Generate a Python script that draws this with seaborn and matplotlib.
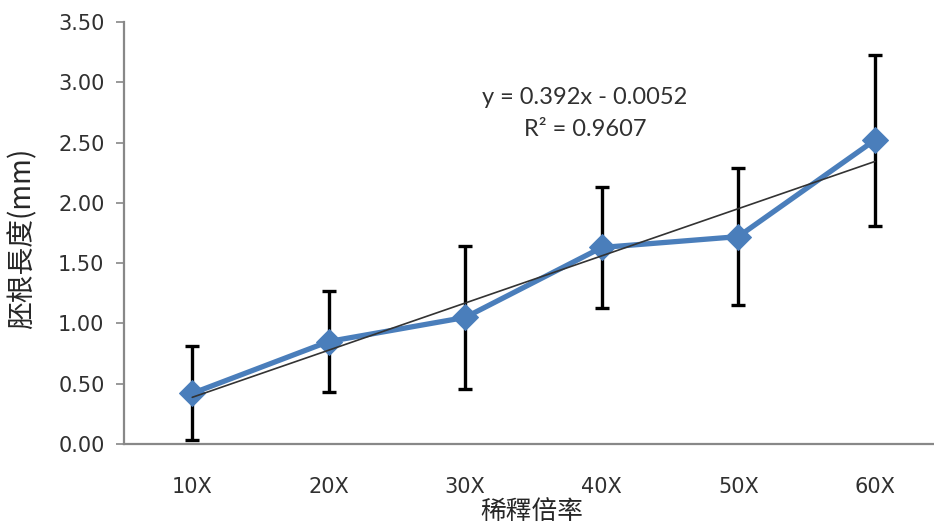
import numpy as np
import pandas as pd
import matplotlib
matplotlib.use("Agg")
import matplotlib.pyplot as plt
import seaborn as sns

categories = ["10X", "20X", "30X", "40X", "50X", "60X"]
means = [0.42, 0.85, 1.05, 1.63, 1.72, 2.52]
errors = [0.39, 0.42, 0.59, 0.50, 0.57, 0.71]
y_ticks = [0.0, 0.5, 1.0, 1.5, 2.0, 2.5, 3.0, 3.5]
y_label = "胚根長度(mm)"
x_label = "稀釋倍率"
eq_line1 = "y = 0.392x - 0.0052"
eq_line2 = "R² = 0.9607"

sns.set_style("white")
plt.rcParams['font.family'] = ['DejaVu Sans']

df = pd.DataFrame({"idx": np.arange(len(categories)), "cat": categories, "mean": means, "err": errors})

fig = plt.figure(figsize=(9.34, 5.30), dpi=100)
ax = fig.add_axes([124/934, 1 - 444/530, 1 - 124/934, (444 - 22)/530])

ax.errorbar(df["idx"], df["mean"], yerr=df["err"], fmt="none", ecolor="black",
            elinewidth=2.4, capsize=5, capthick=2.4, zorder=2)

line_color = "#4A7EBB"
sns.lineplot(data=df, x="idx", y="mean", ax=ax, color=line_color, linewidth=3.8,
             marker="D", markersize=13, markeredgecolor=line_color, zorder=3,
             estimator=None)

xs = np.arange(1, len(categories) + 1)
slope, intercept = np.polyfit(xs, means, 1)
ax.plot(df["idx"], slope * xs + intercept, color="#333333", linewidth=1.2, zorder=4)

ax.set_xlim(-0.5, -0.5 + 810/136.5)
ax.set_ylim(0, 3.5)
ax.set_yticks(y_ticks)
ax.set_yticklabels([f"{v:.2f}" for v in y_ticks], fontsize=15, color="#303030")
ax.set_xticks(df["idx"])
ax.set_xticklabels(categories, fontsize=15, color="#303030")
ax.tick_params(axis="y", direction="out", length=6, width=1.2, color="#888888", pad=8, left=True)
ax.tick_params(axis="x", length=0, pad=24)

for s in ["top", "right"]:
    ax.spines[s].set_visible(False)
for s in ["left", "bottom"]:
    ax.spines[s].set_color("#888888")
    ax.spines[s].set_linewidth(1.6)

ax.set_ylabel(y_label, family=['Noto Sans CJK TC', 'DejaVu Sans'], fontsize=20)
ax.set_xlabel(x_label, family=['Noto Sans CJK TC', 'DejaVu Sans'], fontsize=18.5)
ax.yaxis.set_label_coords((22 - 124) / 810, (444 - 238) / 422)
ax.xaxis.set_label_coords((532 - 124) / 810, (444 - 512) / 422)
ax.xaxis.label.set_va("center")
ax.yaxis.label.set_va("center")

def to_data(px, py):
    x = (px - 124) / 136.5 - 0.5
    y = 3.5 * (444 - py) / 422
    return x, y

x1, y1 = to_data(585, 98)
x2, y2 = to_data(585, 129)
ax.text(x1, y1, eq_line1, ha="center", va="center", fontsize=17, color="#303030",
        family=['Lato', 'DejaVu Sans'])
ax.text(x2, y2, eq_line2, ha="center", va="center", fontsize=17, color="#303030",
        family=['Lato', 'DejaVu Sans'])

fig.savefig("out.png", dpi=100)
